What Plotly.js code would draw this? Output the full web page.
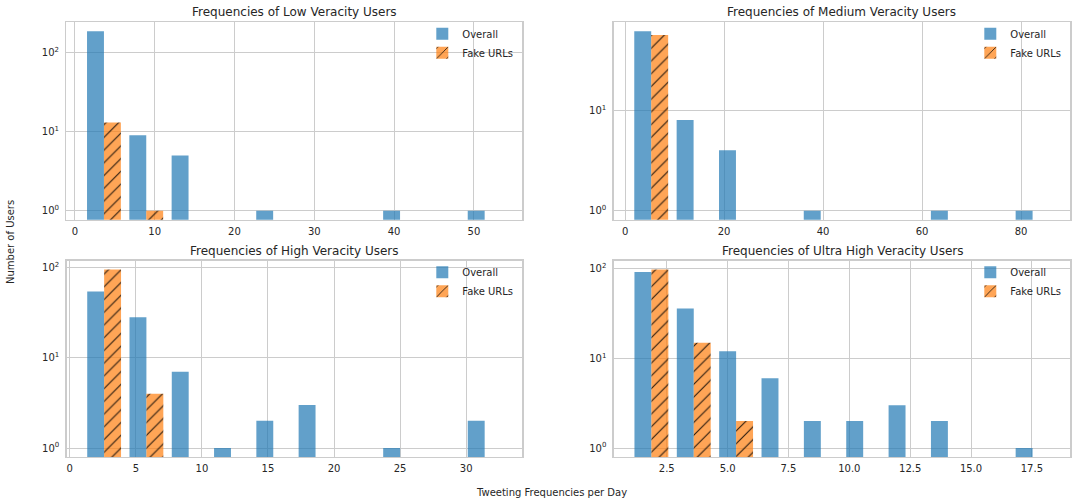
<!DOCTYPE html>
<html>
<head>
<meta charset="utf-8">
<script src="https://cdn.plot.ly/plotly-3.0.1.min.js"></script>
<style>
  html, body { margin: 0; padding: 0; background: #ffffff; }
  #chart { width: 1077px; height: 504px; }
</style>
</head>
<body>
<div id="chart"></div>
<script>
// Histogram counts per day-frequency bin (10 equal bins per group)
const groupTitles = [
  "Frequencies of Low Veracity Users",
  "Frequencies of Medium Veracity Users",
  "Frequencies of High Veracity Users",
  "Frequencies of Ultra High Veracity Users"
];
const seriesNames = ["Overall", "Fake URLs"];

// lower / upper edge of the binned range for each group
const binLow  = [1, 1, 1, 1];
const binHigh = [54, 86.6, 33, 18.4];
const binCount = 10;

const lowOverall    = [185, 9, 5, 0, 1, 0, 0, 1, 0, 1];
const lowFake       = [13, 1, 0, 0, 0, 0, 0, 0, 0, 0];
const mediumOverall = [61, 8, 4, 0, 1, 0, 0, 1, 0, 1];
const mediumFake    = [56, 0, 0, 0, 0, 0, 0, 0, 0, 0];
const highOverall   = [54, 28, 7, 1, 2, 3, 0, 1, 0, 2];
const highFake      = [94, 4, 0, 0, 0, 0, 0, 0, 0, 0];
const ultraOverall  = [92, 36, 12, 6, 2, 2, 3, 2, 0, 1];
const ultraFake     = [98, 15, 2, 0, 0, 0, 0, 0, 0, 0];

const overallSets = [lowOverall, mediumOverall, highOverall, ultraOverall];
const fakeSets    = [lowFake, mediumFake, highFake, ultraFake];

const xTickStep   = [10, 20, 5, 2.5];
const xTickFormat = ["d", "d", "d", ".1f"];
const yTickVals   = [1, 10, 100];
const yTickText   = ["10<sup>0</sup>", "10<sup>1</sup>", "10<sup>2</sup>"];

// ---- styling ----
const W = 1077, H = 504;
const textColor = "#262626";
const gridColor = "#cccccc";
const font = "DejaVu Sans, Verdana, sans-serif";
const blue = "rgba(31,119,180,0.7)";
const orange = "rgba(255,127,14,0.7)";

// plot boxes in pixels: [left, top, right, bottom]
const boxes = [
  [66.3, 22.3, 522.3, 219.7],
  [613.5, 22.3, 1070.3, 219.7],
  [66.5, 260.7, 522.3, 457],
  [613.7, 260.7, 1070.3, 457]
];
const px = v => v / W;
const py = v => 1 - v / H;

function centers(lo, hi, n) {
  const w = (hi - lo) / n;
  const out = [];
  for (let i = 0; i < n; i++) out.push(lo + (i + 0.5) * w);
  return out;
}

const traces = [];
const layout = {
  width: W, height: H,
  margin: {l: 0, r: 0, t: 0, b: 0},
  paper_bgcolor: "#ffffff",
  plot_bgcolor: "#ffffff",
  font: {family: font, size: 10, color: textColor},
  barmode: "group",
  bargap: 0.2,
  bargroupgap: 0,
  showlegend: true,
  annotations: []
};

for (let k = 0; k < 4; k++) {
  const sfx = k === 0 ? "" : String(k + 1);
  const xName = "x" + sfx, yName = "y" + sfx;
  const legName = "legend" + sfx;
  const xs = centers(binLow[k], binHigh[k], binCount);
  const w = (binHigh[k] - binLow[k]) / binCount;

  traces.push({
    type: "bar", x: xs, y: overallSets[k], name: seriesNames[0],
    xaxis: xName, yaxis: yName, legend: legName,
    marker: {color: blue, line: {width: 0}},
    hoverinfo: "x+y"
  });
  traces.push({
    type: "bar", x: xs, y: fakeSets[k], name: seriesNames[1],
    xaxis: xName, yaxis: yName, legend: legName,
    marker: {color: orange, line: {width: 0},
             pattern: {shape: "/", fillmode: "replace", bgcolor: orange,
                       fgcolor: "rgba(0,0,0,0.85)", size: 9, solidity: 0.12}},
    hoverinfo: "x+y"
  });

  // autoscale like a histogram: 5% margins around the bar extents
  const dataLo = binLow[k] + 0.1 * w;
  const dataHi = binHigh[k] - 0.1 * w;
  const span = dataHi - dataLo;
  const maxCount = Math.max(...overallSets[k], ...fakeSets[k]);
  const ls = Math.log10(maxCount);

  const b = boxes[k];
  layout["xaxis" + sfx] = {
    domain: [px(b[0]), px(b[2])],
    anchor: yName,
    range: [dataLo - 0.05 * span, dataHi + 0.05 * span],
    tick0: 0, dtick: xTickStep[k], tickformat: xTickFormat[k],
    showgrid: true, gridcolor: gridColor, gridwidth: 1,
    zeroline: false,
    showline: true, mirror: true, linecolor: gridColor, linewidth: 1.25,
    ticks: "", ticklabelstandoff: 2,
    tickfont: {family: font, size: 10, color: textColor},
    automargin: false, fixedrange: true
  };
  layout["yaxis" + sfx] = {
    domain: [py(b[3]), py(b[1])],
    anchor: xName,
    type: "log",
    range: [-0.05 * ls, ls + 0.05 * ls],
    tickmode: "array", tickvals: yTickVals, ticktext: yTickText,
    showgrid: true, gridcolor: gridColor, gridwidth: 1,
    zeroline: false,
    showline: true, mirror: true, linecolor: gridColor, linewidth: 1.25,
    ticks: "", ticklabelstandoff: 4,
    tickfont: {family: font, size: 10, color: textColor},
    automargin: false, fixedrange: true
  };
  layout[legName] = {
    x: px(b[2] - 4), xanchor: "right",
    y: py(b[1] - 3), yanchor: "top",
    bgcolor: "rgba(0,0,0,0)", borderwidth: 0,
    font: {family: font, size: 10, color: textColor},
    tracegroupgap: 0, itemwidth: 30
  };
  layout.annotations.push({
    text: groupTitles[k], xref: "paper", yref: "paper",
    x: px((b[0] + b[2]) / 2), y: py(b[1] - 10),
    xanchor: "center", yanchor: "middle", showarrow: false,
    font: {family: font, size: 12, color: textColor}
  });
}

layout.annotations.push({
  text: "Tweeting Frequencies per Day", xref: "paper", yref: "paper",
  x: px(551), y: py(492), xanchor: "center", yanchor: "middle",
  showarrow: false, font: {family: font, size: 10, color: textColor}
});
layout.annotations.push({
  text: "Number of Users", xref: "paper", yref: "paper",
  x: px(10), y: py(242), xanchor: "center", yanchor: "middle",
  textangle: -90, showarrow: false,
  font: {family: font, size: 10, color: textColor}
});

Plotly.newPlot("chart", traces, layout, {displayModeBar: false, staticPlot: true});
</script>
</body>
</html>
